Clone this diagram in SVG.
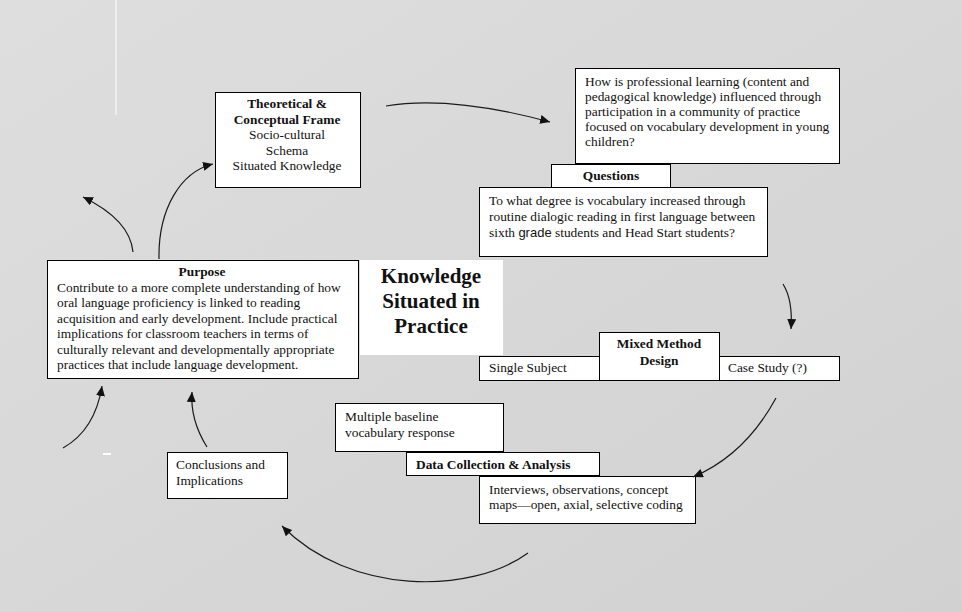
<svg xmlns="http://www.w3.org/2000/svg" width="962" height="612" viewBox="0 0 962 612">
<defs>
<linearGradient id="bg" x1="0" y1="0" x2="1" y2="1">
<stop offset="0" stop-color="#dedede"/>
<stop offset="1" stop-color="#d1d1d1"/>
</linearGradient>
<marker id="ah" markerUnits="userSpaceOnUse" markerWidth="11" markerHeight="9" refX="10" refY="4.5" orient="auto">
<path d="M0,0 L10,4.5 L0,9 Z" fill="#111"/>
</marker>
<style>
.box{fill:#fff;stroke:#000;stroke-width:1}
.t{font-family:"Liberation Serif","Times New Roman",serif;font-size:13.4px;fill:#111}
.b{font-weight:bold}
.c{text-anchor:middle}
.big{font-family:"Liberation Serif","Times New Roman",serif;font-size:21px;font-weight:bold;fill:#111;text-anchor:middle}
.con{fill:none;stroke:#1a1a1a;stroke-width:1.2;marker-end:url(#ah)}
</style>
</defs>
<rect x="0" y="0" width="962" height="612" fill="url(#bg)"/>
<line x1="116" y1="0" x2="116" y2="115" stroke="#fff" stroke-width="1"/>
<rect x="103" y="453" width="8" height="2" fill="#fff"/>

<g id="theoretical">
<rect class="box" x="215.5" y="92.5" width="145" height="95"/>
<text class="t b c" x="287" y="108">Theoretical &amp;</text>
<text class="t b c" x="287" y="124">Conceptual Frame</text>
<text class="t c" x="287" y="139">Socio-cultural</text>
<text class="t c" x="287" y="155">Schema</text>
<text class="t c" x="287" y="170">Situated Knowledge</text>
</g>

<g id="questions">
<rect class="box" x="575.5" y="68.5" width="264" height="95"/>
<text class="t" x="585" y="86">How is professional learning (content and</text>
<text class="t" x="585" y="101">pedagogical knowledge) influenced through</text>
<text class="t" x="585" y="116">participation in a community of practice</text>
<text class="t" x="585" y="131">focused on vocabulary development in young</text>
<text class="t" x="585" y="146">children?</text>
<rect class="box" x="551.5" y="164.5" width="119" height="23"/>
<text class="t b c" x="611" y="180">Questions</text>
<rect class="box" x="479.5" y="187.5" width="288" height="69"/>
<text class="t" x="489" y="205">To what degree is vocabulary increased through</text>
<text class="t" x="489" y="221">routine dialogic reading in first language between</text>
<text class="t" x="489" y="237">sixth <tspan style="font-family:'Liberation Sans',Arial,sans-serif;font-size:13px">grade</tspan> students and Head Start students?</text>
</g>

<g id="purpose">
<rect class="box" x="47.5" y="260.5" width="311" height="118"/>
<text class="t b c" x="202" y="276">Purpose</text>
<text class="t" x="57" y="292">Contribute to a more complete understanding of how</text>
<text class="t" x="57" y="307">oral language proficiency is linked to reading</text>
<text class="t" x="57" y="323">acquisition and early development. Include practical</text>
<text class="t" x="57" y="338">implications for classroom teachers in terms of</text>
<text class="t" x="57" y="354">culturally relevant and developmentally appropriate</text>
<text class="t" x="57" y="369">practices that include language development.</text>
</g>

<g id="center">
<rect x="360" y="260" width="143" height="95" fill="#fff"/>
<text class="big" x="431" y="283">Knowledge</text>
<text class="big" x="431" y="308">Situated in</text>
<text class="big" x="431" y="333">Practice</text>
</g>

<g id="mixed-method">
<rect class="box" x="479.5" y="356.5" width="120" height="24"/>
<text class="t" x="489" y="372">Single Subject</text>
<rect class="box" x="719.5" y="356.5" width="120" height="24"/>
<text class="t" x="728" y="372">Case Study (?)</text>
<rect class="box" x="599.5" y="332.5" width="120" height="48"/>
<text class="t b c" x="659" y="348">Mixed Method</text>
<text class="t b c" x="659" y="365">Design</text>
</g>

<g id="data-collection">
<rect class="box" x="335.5" y="403.5" width="168" height="48"/>
<text class="t" x="345" y="421">Multiple baseline</text>
<text class="t" x="345" y="437">vocabulary response</text>
<rect class="box" x="406.5" y="452.5" width="193" height="23"/>
<text class="t b" x="416" y="469">Data Collection &amp; Analysis</text>
<rect class="box" x="479.5" y="476.5" width="216" height="47"/>
<text class="t" x="489" y="494">Interviews, observations, concept</text>
<text class="t" x="489" y="509">maps—open, axial, selective coding</text>
</g>

<g id="conclusions">
<rect class="box" x="167.5" y="452.5" width="120" height="46"/>
<text class="t" x="176" y="469">Conclusions and</text>
<text class="t" x="176" y="485">Implications</text>
</g>

<g id="connectors">
<path class="con" d="M386,106 Q450,95 550,122"/>
<path class="con" d="M783,284 Q793,300 791,329"/>
<path class="con" d="M776,398 Q745,455 693,477"/>
<path class="con" d="M528,553 C470,595 350,595 282,526"/>
<path class="con" d="M207,447 Q190,420 192,392"/>
<path class="con" d="M63,448 Q95,430 102,386"/>
<path class="con" d="M133,252 Q130,220 83,197"/>
<path class="con" d="M159,259 C158,210 180,172 213,164"/>
</g>
</svg>
